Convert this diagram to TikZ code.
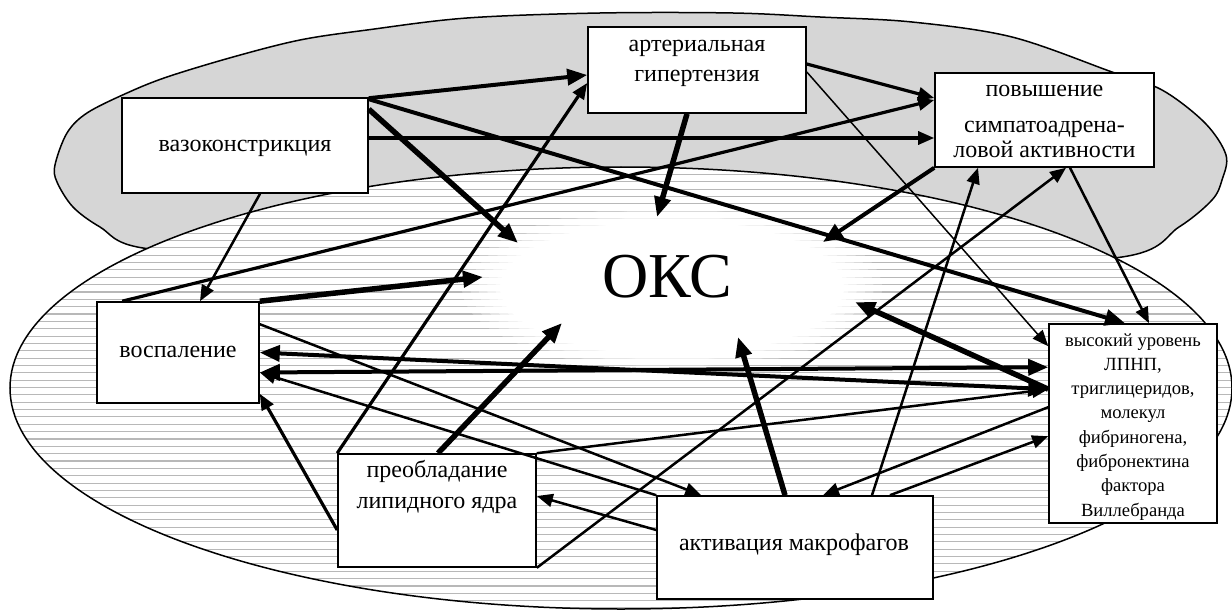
\documentclass[tikz,border=0pt]{standalone}
\usepackage{fontspec}
\setmainfont{Liberation Serif}
\usetikzlibrary{arrows.meta,calc}
\begin{document}
\begin{tikzpicture}[x=0.5pt,y=-0.5pt,
  box/.style={draw,line width=0.8pt,fill=white,rectangle,inner sep=0pt},
  lbl/.style={anchor=base,inner sep=0pt,font=\fontsize{12}{14}\selectfont},
  slbl/.style={anchor=base,inner sep=0pt,font=\fontsize{9.3}{11}\selectfont},
  hatch/.style={draw=black!28,line width=0.55pt},
  hs/.style={-{Triangle[length=8pt,width=6.5pt]}},
  hb/.style={-{Triangle[length=10pt,width=8pt]}},
  hbb/.style={{Triangle[length=10pt,width=8pt]}-{Triangle[length=10pt,width=8pt]}},
  wa/.style={line width=0.75pt,hs},
  wb/.style={line width=1.25pt,hs},
  wc/.style={line width=1.6pt,hs},
  wd/.style={line width=2pt,hb},
  we/.style={line width=2.75pt,hb},
]
\useasboundingbox (0,0) rectangle (1232,610);

% upper grey region
\draw[fill=black!16,line width=0.75pt] plot[smooth cycle,tension=0.55] coordinates {
  (55,165) (67,133) (87,113) (127,93) (167,77) (233,57) (300,40) (367,30)
  (467,18) (600,13) (733,13) (820,17) (912,22) (1012,37) (1112,72) (1162,90)
  (1205,123) (1226,155) (1222,180) (1212,200) (1179,227) (1122,257)
  (900,268) (600,265) (300,258) (143,248) (100,227) (73,207) (57,182)};

% lower hatched region
\fill[white] (621,388) ellipse [x radius=305.5pt,y radius=110.5pt];
\begin{scope}
  \clip (621,388) ellipse [x radius=305.5pt,y radius=110.5pt];
  \foreach \i in {0,...,60} {\draw[hatch] (0,{167+\i*7.35}) -- (1232,{167+\i*7.35});}
\end{scope}
\draw[line width=0.75pt] (621,388) ellipse [x radius=305.5pt,y radius=110.5pt];

% white cloud
\foreach \s/\o in {1.0/0.25,0.96/0.3,0.92/0.35,0.88/0.45,0.84/0.6}
  {\fill[white,opacity=\o] (672,288) ellipse [x radius={105pt*\s},y radius={41pt*\s}];}
\fill[white] (672,288) ellipse [x radius=86pt,y radius=34pt];

\node[anchor=base,inner sep=0pt,font=\fontsize{32}{36}\selectfont] (oks) at (667.5,297) {ОКС};

% boxes
\node[box,minimum width=123pt,minimum height=47.5pt] (V) at (245,145.5) {};
\node[lbl] (Vt) at (245,152) {вазоконстрикция};

\node[box,minimum width=109pt,minimum height=43pt] (A) at (697,70) {};
\node[lbl] (At1) at (697,52) {артериальная};
\node[lbl] (At2) at (697,82) {гипертензия};

\node[box,minimum width=109.5pt,minimum height=47pt] (P) at (1044.5,120) {};
\node[lbl] (Pt1) at (1044.5,97) {повышение};
\node[lbl] (Pt2) at (1044.5,133) {симпатоадрена-};
\node[lbl] (Pt3) at (1044.5,158) {ловой активности};

\node[box,minimum width=81pt,minimum height=50.5pt] (B) at (178,352.5) {};
\node[lbl] (Bt) at (178,357) {воспаление};

\node[box,minimum width=99pt,minimum height=56.5pt] (L) at (437,510.5) {};
\node[lbl] (Lt1) at (437,477) {преобладание};
\node[lbl] (Lt2) at (437,508) {липидного ядра};

\node[box,minimum width=138pt,minimum height=51.5pt] (M) at (795,547.5) {};
\node[lbl] (Mt) at (794,550) {активация макрофагов};

\node[box,minimum width=84pt,minimum height=99.5pt] (H) at (1133,423.5) {};
\node[slbl] (Ht1) at (1133,346) {высокий уровень};
\node[slbl] (Ht2) at (1133,370.3) {ЛПНП,};
\node[slbl] (Ht3) at (1133,394.6) {триглицеридов,};
\node[slbl] (Ht4) at (1133,418.9) {молекул};
\node[slbl] (Ht5) at (1133,443.2) {фибриногена,};
\node[slbl] (Ht6) at (1133,467.5) {фибронектина};
\node[slbl] (Ht7) at (1133,491.8) {фактора};
\node[slbl] (Ht8) at (1133,516.1) {Виллебранда};

% connectors
\draw[wd] ($(V.north east)+(0,1)$) -- ($(A.west)+(0,5)$);
\draw[we] ($(V.north east)+(0,12)$) -- ($(oks.base)+(-149.5,-54)$);
\draw[wc] ($(V.east)+(0,-7.5)$) -- ($(P.west)+(0,18)$);
\draw[wd] ($(V.north east)+(0,2)$) -- ($(H.north)+(-8,0)$);
\draw[wb] ($(V.south)+(15,0)$) -- ($(B.north)+(22,0)$);
\draw[we] ($(A.south)+(-10,0)$) -- ($(oks.base)+(-10.5,-80)$);
\draw[wc] ($(A.east)+(0,-6)$) -- ($(P.west)+(0,-22)$);
\draw[wa] ($(A.east)+(0,2)$) -- ($(H.north west)+(0,23)$);
\draw[wd] (P.south west) -- ($(oks.base)+(155.5,-55)$);
\draw[wb] ($(P.south)+(25.5,0)$) -- ($(H.north)+(16,0)$);
\draw[wc] ($(B.north west)+(26,0)$) -- ($(P.west)+(0,-20)$);
\draw[we] (B.north east) -- ($(oks.base)+(-184.5,-20)$);
\draw[wb] ($(B.north east)+(0,23)$) -- ($(M.north west)+(45,0)$);
\draw[line width=2pt,hbb] (B.east) -- ($(H.north west)+(0,66)$);
\draw[line width=2pt,hbb] ($(B.east)+(0,20)$) -- ($(H.north west)+(0,44)$);
\draw[wc] (L.north west) -- ($(A.west)+(0,13)$);
\draw[wc] ($(L.west)+(0,19.5)$) -- ($(B.south east)+(0,-10)$);
\draw[we] ($(L.north)+(1,0)$) -- ($(oks.base)+(-105.5,26)$);
\draw[wb] (L.north east) -- ($(H.north west)+(0,66)$);
\draw[wb] (L.south east) -- ($(P.south)+(21.5,0)$);
\draw[we] ($(M.north)+(-10,0)$) -- ($(oks.base)+(70.5,40)$);
\draw[wb] ($(M.west)+(0,-17.5)$) -- ($(L.east)+(0,-14.5)$);
\draw[wb] ($(M.north)+(77,0)$) -- ($(P.south)+(-66.5,0)$);
\draw[wb] ($(M.north)+(95,0)$) -- ($(H.north west)+(0,113)$);
\draw[wb] ($(H.north west)+(0,84)$) -- ($(M.north)+(28,0)$);
\draw[we] ($(H.north west)+(0,66)$) -- ($(oks.base)+(187.5,5)$);
\draw[wb] (M.north west) -- ($(B.east)+(0,20)$);
\end{tikzpicture}
\end{document}
